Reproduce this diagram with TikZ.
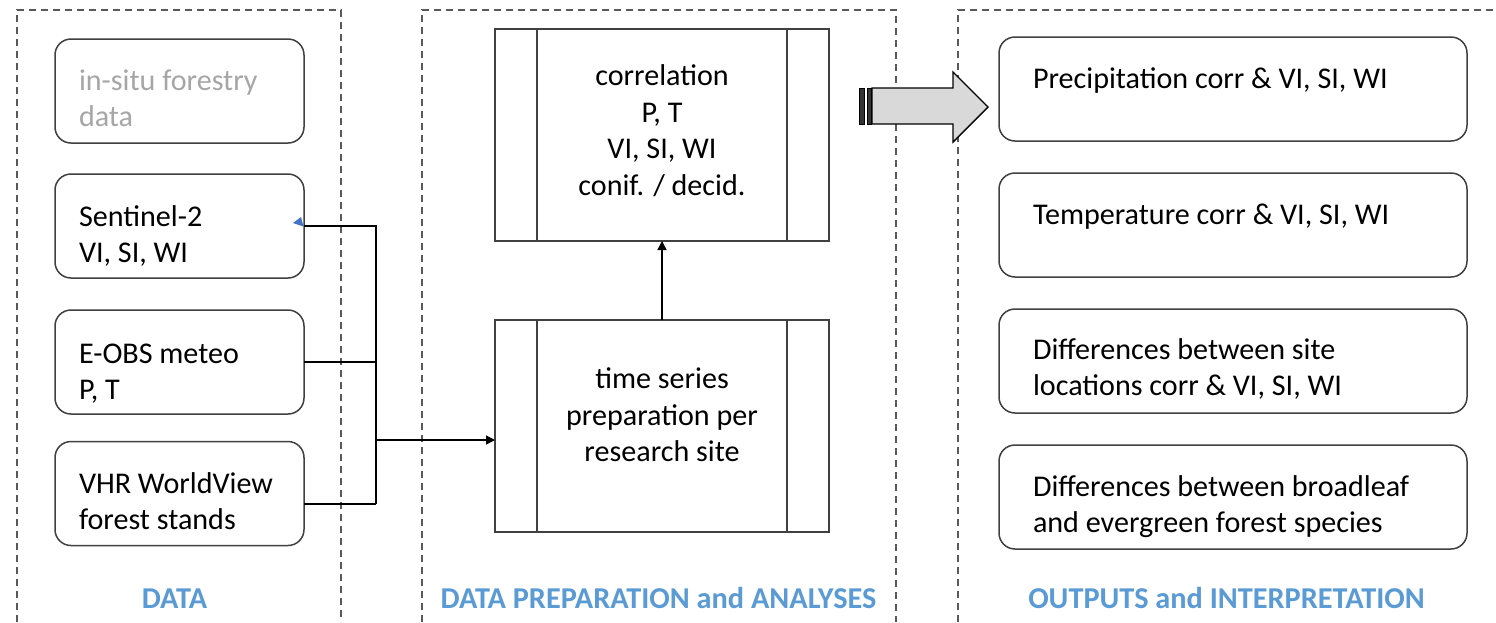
\documentclass[tikz,border=0pt]{standalone}
\usepackage{fontspec}
\setmainfont{Carlito}
\usetikzlibrary{arrows.meta,calc}
\definecolor{lblblue}{HTML}{5B9BD5}
\definecolor{boxgray}{HTML}{404040}
\definecolor{dashgray}{HTML}{595959}
\definecolor{txtgray}{HTML}{A6A6A6}
\definecolor{arrowfill}{HTML}{D9D9D9}
\definecolor{tipblue}{HTML}{4472C4}
\begin{document}
\begin{tikzpicture}[x=1pt,y=-1pt,
  every node/.style={inner sep=0pt,outer sep=0pt},
  bigfont/.style={font=\fontsize{30.1}{36.6}\selectfont},
  rbox/.style={draw=boxgray,line width=1.5pt,rounded corners=16pt,minimum height=104pt},
  leftbox/.style={rbox,minimum width=249pt},
  rightbox/.style={rbox,minimum width=468pt},
  procbox/.style={draw=boxgray,line width=1.5pt,minimum width=334pt,minimum height=212pt},
  ltxt/.style={bigfont,anchor=west,align=left},
  ctxt/.style={bigfont,anchor=center,align=center},
  lbl/.style={font=\fontsize{30.3}{36}\selectfont\bfseries,text=lblblue,anchor=center},
  panel/.style={draw=dashgray,line width=1.7pt,dash pattern=on 7pt off 5pt},
  conn/.style={draw=black,line width=1.4pt},
  arr/.style={conn,-{Triangle[length=9pt,width=9pt]}}
]
\useasboundingbox (0,0) rectangle (1496,622);
\fill[white] (0,0) rectangle (1496,622);

% dashed panels
\draw[panel] (17,622) -- (17,10) -- (341,10) -- (341,622);
\draw[panel] (422,622) -- (422,10) -- (896,10) -- (896,622);
\draw[panel] (958,622) -- (958,10) -- (1500,10);

% left boxes
\node[leftbox] (insitu) at (179.5,91) {};
\node[leftbox] (s2) at (179.5,226) {};
\node[leftbox] (eobs) at (179.5,362) {};
\node[leftbox] (vhr) at (179.5,493.5) {};
\node[ltxt,text=txtgray] (insitut) at (79,101) {\strut in-situ forestry\\data\strut};
\node[ltxt] (s2t) at (79,237) {\strut Sentinel-2\\VI, SI, WI\strut};
\node[ltxt] (eobst) at (79,374) {\strut E-OBS meteo\\P, T\strut};
\node[ltxt] (vhrt) at (79,504) {\strut VHR WorldView\\forest stands\strut};

% middle boxes
\node[procbox] (corr) at (662,135) {};
\node[procbox] (ts) at (662,426) {};
\foreach \b in {corr,ts}{
  \draw[draw=boxgray,line width=1.5pt] ($(\b.north west)+(42,0)$) -- ($(\b.south west)+(42,0)$);
  \draw[draw=boxgray,line width=1.5pt] ($(\b.north east)+(-42,0)$) -- ($(\b.south east)+(-42,0)$);
}
\node[ctxt] (corrt) at (662,133) {\strut correlation\\P, T\\VI, SI, WI\\conif. / decid.\strut};
\node[ctxt] (tst) at (662,418) {\strut time series\\preparation per\\research site\strut};

% right boxes
\node[rightbox] (prec) at (1233,89) {};
\node[rightbox] (temp) at (1233,225) {};
\node[rightbox] (dsite) at (1233,361) {};
\node[rightbox] (dbroad) at (1233,497) {};
\node[ltxt] (prect) at (1033,81) {\strut Precipitation corr \& VI, SI, WI\strut};
\node[ltxt] (tempt) at (1033,217) {\strut Temperature corr \& VI, SI, WI\strut};
\node[ltxt] (dsitet) at (1033,370) {\strut Differences between site\\locations corr \& VI, SI, WI\strut};
\node[ltxt] (dbroadt) at (1033,507) {\strut Differences between broadleaf\\and evergreen forest species\strut};

% labels
\node[lbl] (l1) at (174.5,601) {\strut DATA};
\node[lbl] (l2) at (658.5,601) {\strut DATA PREPARATION and ANALYSES};
\node[lbl] (l3) at (1226.5,601) {\strut OUTPUTS and INTERPRETATION};

% connectors
\coordinate (jtop) at (376,226);
\coordinate (jbot) at (376,504);
\coordinate (jmid) at (376,440);
\draw[conn] (s2.east) -- (jtop) -- (jbot);
\draw[conn] (eobs.east) -- (eobs.east -| jtop);
\draw[conn] (vhr.east |- jbot) -- (jbot);
\draw[arr] (jmid) -- (jmid -| ts.west);
\draw[arr] (ts.north) -- (corr.south);
\fill[tipblue] (293,223) -- (301,217) -- (303.5,226.5) -- cycle;

% big striped arrow
\draw[line width=1.4pt,fill=arrowfill] (872,88) -- (953,88) -- (953,72) -- (988,107) -- (953,142) -- (953,124) -- (872,124) -- cycle;
\draw[line width=1pt,fill=black!80] (859.5,88) rectangle (864.5,124);
\draw[line width=1pt,fill=black!80] (867,88) rectangle (871.5,124);
\end{tikzpicture}
\end{document}
